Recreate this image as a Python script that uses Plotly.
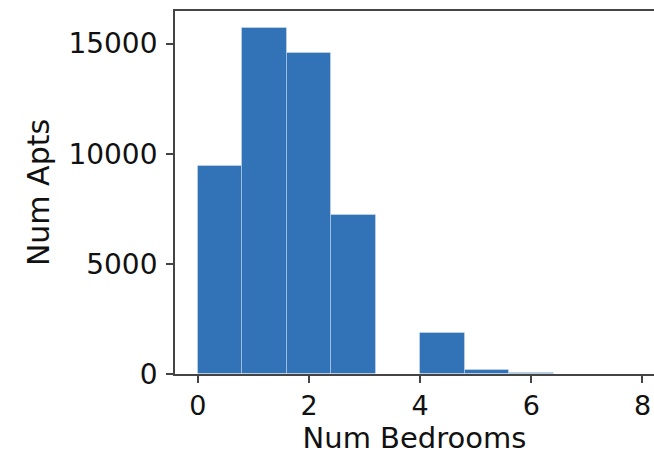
import plotly.graph_objects as go

bin_edges = [0.0, 0.8, 1.6, 2.4, 3.2, 4.0, 4.8, 5.6, 6.4, 7.2, 8.0]
counts = [9450, 15690, 14580, 7240, 0, 1870, 190, 40, 5, 2]
x_ticks = [0, 2, 4, 6, 8]
y_ticks = [0, 5000, 10000, 15000]

centers = [(a + b) / 2 for a, b in zip(bin_edges[:-1], bin_edges[1:])]
widths = [b - a for a, b in zip(bin_edges[:-1], bin_edges[1:])]

fig = go.Figure(go.Bar(
    x=centers, y=counts, width=widths,
    marker=dict(color="#3273b7", line=dict(color="rgba(255,255,255,0.3)", width=1)),
))

font = "DejaVu Sans"
fig.update_layout(
    width=654, height=455,
    margin=dict(l=175, r=0, t=11, b=81),
    plot_bgcolor="white", paper_bgcolor="white",
    showlegend=False,
    font=dict(family=font, color="#111111"),
    bargap=0,
)
fig.update_xaxes(
    range=[-0.41, 8.207], tickvals=x_ticks, ticktext=[str(v) for v in x_ticks],
    showgrid=False, zeroline=False,
    showline=True, linecolor="#444444", linewidth=1.8, mirror=True,
    ticks="outside", ticklen=7, tickwidth=1.5, tickcolor="#444444",
    tickfont=dict(size=27, family=font),
    title=dict(text="Num Bedrooms", font=dict(size=29, family=font), standoff=9),
)
fig.update_yaxes(
    range=[0, 16477], tickvals=y_ticks, ticktext=[str(v) for v in y_ticks],
    showgrid=False, zeroline=False,
    showline=True, linecolor="#444444", linewidth=1.8, mirror=False,
    ticks="outside", ticklen=7, tickwidth=1.5, tickcolor="#444444",
    tickfont=dict(size=28, family=font), ticklabelstandoff=3,
    title=dict(text="Num Apts", font=dict(size=30, family=font), standoff=10),
)
fig.write_html("out.html")
